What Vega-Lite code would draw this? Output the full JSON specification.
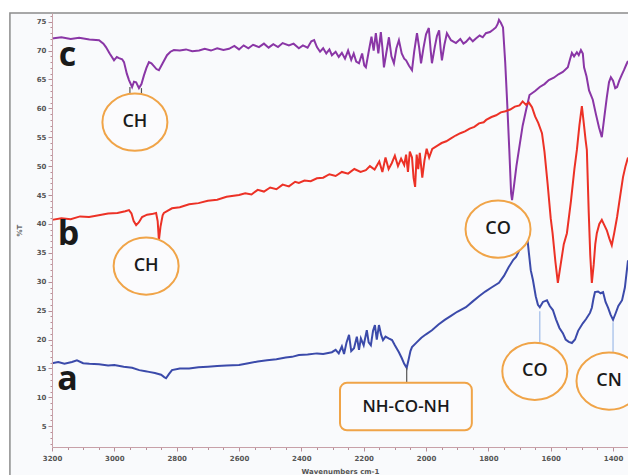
{
  "$schema": "https://vega.github.io/schema/vega-lite/v6.json",
  "width": 576,
  "height": 434,
  "autosize": {"type": "none"},
  "padding": {"left": 52, "top": 13, "right": 0, "bottom": 28},
  "background": "white",
  "config": {"view": {"stroke": null}, "axis": {"labelOverlap": false}},
  "datasets": {
    "frame": [{"x1": 3335, "x2": 1300, "y1": 76.5, "y2": -5}],
    "spectra": [
      {"s":"c","w":3200,"v":72.1},{"s":"c","w":3170,"v":72.3},{"s":"c","w":3140,"v":72.0},{"s":"c","w":3113,"v":72.2},{"s":"c","w":3080,"v":71.9},{"s":"c","w":3049,"v":71.8},{"s":"c","w":3035,"v":71.2},{"s":"c","w":3027,"v":70.6},{"s":"c","w":3015,"v":69.5},{"s":"c","w":3001,"v":68.3},{"s":"c","w":2992,"v":68.9},{"s":"c","w":2985,"v":68.7},{"s":"c","w":2975,"v":68.5},{"s":"c","w":2969,"v":68.0},{"s":"c","w":2960,"v":66.0},{"s":"c","w":2953,"v":64.9},{"s":"c","w":2943,"v":63.7},{"s":"c","w":2937,"v":64.6},{"s":"c","w":2930,"v":64.5},{"s":"c","w":2921,"v":63.5},{"s":"c","w":2913,"v":64.2},{"s":"c","w":2905,"v":65.7},{"s":"c","w":2897,"v":67.0},{"s":"c","w":2889,"v":68.0},{"s":"c","w":2881,"v":67.8},{"s":"c","w":2873,"v":67.3},{"s":"c","w":2865,"v":66.8},{"s":"c","w":2857,"v":66.6},{"s":"c","w":2845,"v":67.8},{"s":"c","w":2831,"v":69.2},{"s":"c","w":2820,"v":69.8},{"s":"c","w":2809,"v":70.1},{"s":"c","w":2790,"v":70.0},{"s":"c","w":2770,"v":70.2},{"s":"c","w":2750,"v":69.9},{"s":"c","w":2728,"v":70.0},{"s":"c","w":2710,"v":70.3},{"s":"c","w":2690,"v":70.0},{"s":"c","w":2670,"v":70.4},{"s":"c","w":2650,"v":70.1},{"s":"c","w":2632,"v":70.3},{"s":"c","w":2615,"v":70.8},{"s":"c","w":2600,"v":70.2},{"s":"c","w":2585,"v":70.9},{"s":"c","w":2570,"v":70.4},{"s":"c","w":2555,"v":71.0},{"s":"c","w":2536,"v":70.6},{"s":"c","w":2520,"v":71.2},{"s":"c","w":2505,"v":70.5},{"s":"c","w":2490,"v":71.1},{"s":"c","w":2475,"v":70.6},{"s":"c","w":2460,"v":71.3},{"s":"c","w":2440,"v":70.9},{"s":"c","w":2425,"v":71.2},{"s":"c","w":2408,"v":70.4},{"s":"c","w":2395,"v":70.9},{"s":"c","w":2380,"v":70.5},{"s":"c","w":2368,"v":71.6},{"s":"c","w":2359,"v":71.8},{"s":"c","w":2350,"v":70.6},{"s":"c","w":2340,"v":69.8},{"s":"c","w":2330,"v":70.4},{"s":"c","w":2320,"v":69.5},{"s":"c","w":2310,"v":70.2},{"s":"c","w":2302,"v":69.2},{"s":"c","w":2290,"v":69.8},{"s":"c","w":2280,"v":68.9},{"s":"c","w":2270,"v":69.6},{"s":"c","w":2260,"v":68.6},{"s":"c","w":2250,"v":70.0},{"s":"c","w":2240,"v":68.4},{"s":"c","w":2232,"v":69.5},{"s":"c","w":2224,"v":68.1},{"s":"c","w":2215,"v":67.8},{"s":"c","w":2205,"v":69.5},{"s":"c","w":2198,"v":67.4},{"s":"c","w":2193,"v":67.1},{"s":"c","w":2185,"v":69.5},{"s":"c","w":2175,"v":72.4},{"s":"c","w":2168,"v":70.0},{"s":"c","w":2161,"v":73.0},{"s":"c","w":2153,"v":69.5},{"s":"c","w":2145,"v":73.2},{"s":"c","w":2140,"v":70.5},{"s":"c","w":2135,"v":67.1},{"s":"c","w":2128,"v":69.4},{"s":"c","w":2119,"v":72.3},{"s":"c","w":2111,"v":69.0},{"s":"c","w":2103,"v":67.8},{"s":"c","w":2095,"v":70.4},{"s":"c","w":2087,"v":71.8},{"s":"c","w":2078,"v":69.5},{"s":"c","w":2070,"v":68.6},{"s":"c","w":2064,"v":68.3},{"s":"c","w":2055,"v":67.4},{"s":"c","w":2045,"v":66.6},{"s":"c","w":2038,"v":69.8},{"s":"c","w":2029,"v":73.0},{"s":"c","w":2022,"v":70.5},{"s":"c","w":2016,"v":67.8},{"s":"c","w":2008,"v":70.5},{"s":"c","w":2000,"v":72.8},{"s":"c","w":1991,"v":73.9},{"s":"c","w":1985,"v":70.0},{"s":"c","w":1981,"v":67.8},{"s":"c","w":1972,"v":70.6},{"s":"c","w":1965,"v":72.5},{"s":"c","w":1958,"v":73.5},{"s":"c","w":1953,"v":70.2},{"s":"c","w":1949,"v":68.3},{"s":"c","w":1941,"v":71.0},{"s":"c","w":1933,"v":73.0},{"s":"c","w":1920,"v":71.8},{"s":"c","w":1904,"v":71.3},{"s":"c","w":1890,"v":72.0},{"s":"c","w":1880,"v":71.2},{"s":"c","w":1872,"v":71.5},{"s":"c","w":1860,"v":72.2},{"s":"c","w":1850,"v":71.6},{"s":"c","w":1840,"v":72.1},{"s":"c","w":1828,"v":72.6},{"s":"c","w":1818,"v":72.3},{"s":"c","w":1808,"v":73.0},{"s":"c","w":1795,"v":73.2},{"s":"c","w":1785,"v":73.6},{"s":"c","w":1776,"v":74.0},{"s":"c","w":1770,"v":74.6},{"s":"c","w":1766,"v":75.3},{"s":"c","w":1760,"v":74.8},{"s":"c","w":1753,"v":74.0},{"s":"c","w":1746,"v":68.0},{"s":"c","w":1740,"v":61.4},{"s":"c","w":1733,"v":53.0},{"s":"c","w":1727,"v":45.3},{"s":"c","w":1724,"v":44.1},{"s":"c","w":1718,"v":46.5},{"s":"c","w":1710,"v":50.0},{"s":"c","w":1702,"v":52.8},{"s":"c","w":1690,"v":57.0},{"s":"c","w":1679,"v":59.7},{"s":"c","w":1668,"v":62.3},{"s":"c","w":1650,"v":63.0},{"s":"c","w":1635,"v":63.7},{"s":"c","w":1620,"v":64.2},{"s":"c","w":1606,"v":64.9},{"s":"c","w":1590,"v":65.3},{"s":"c","w":1575,"v":65.9},{"s":"c","w":1561,"v":66.3},{"s":"c","w":1545,"v":67.1},{"s":"c","w":1538,"v":68.5},{"s":"c","w":1532,"v":69.6},{"s":"c","w":1525,"v":69.0},{"s":"c","w":1516,"v":69.7},{"s":"c","w":1510,"v":69.2},{"s":"c","w":1503,"v":70.1},{"s":"c","w":1497,"v":69.5},{"s":"c","w":1493,"v":67.1},{"s":"c","w":1485,"v":65.5},{"s":"c","w":1477,"v":63.1},{"s":"c","w":1465,"v":61.5},{"s":"c","w":1455,"v":59.0},{"s":"c","w":1445,"v":56.7},{"s":"c","w":1436,"v":55.0},{"s":"c","w":1428,"v":58.5},{"s":"c","w":1420,"v":61.9},{"s":"c","w":1413,"v":64.5},{"s":"c","w":1407,"v":65.4},{"s":"c","w":1400,"v":64.8},{"s":"c","w":1393,"v":63.5},{"s":"c","w":1387,"v":63.7},{"s":"c","w":1380,"v":64.8},{"s":"c","w":1372,"v":65.8},{"s":"c","w":1365,"v":66.6},{"s":"c","w":1358,"v":67.5},{"s":"c","w":1352,"v":68.2},
      {"s":"b","w":3200,"v":40.7},{"s":"b","w":3170,"v":41.0},{"s":"b","w":3140,"v":40.8},{"s":"b","w":3110,"v":41.3},{"s":"b","w":3081,"v":41.2},{"s":"b","w":3050,"v":41.5},{"s":"b","w":3020,"v":41.8},{"s":"b","w":2990,"v":41.9},{"s":"b","w":2965,"v":42.2},{"s":"b","w":2953,"v":42.4},{"s":"b","w":2945,"v":41.8},{"s":"b","w":2938,"v":40.5},{"s":"b","w":2930,"v":39.8},{"s":"b","w":2921,"v":40.3},{"s":"b","w":2911,"v":41.2},{"s":"b","w":2895,"v":41.6},{"s":"b","w":2880,"v":41.7},{"s":"b","w":2866,"v":41.9},{"s":"b","w":2861,"v":40.5},{"s":"b","w":2857,"v":37.2},{"s":"b","w":2852,"v":39.5},{"s":"b","w":2845,"v":41.5},{"s":"b","w":2841,"v":41.9},{"s":"b","w":2815,"v":42.7},{"s":"b","w":2790,"v":42.9},{"s":"b","w":2760,"v":43.4},{"s":"b","w":2730,"v":43.6},{"s":"b","w":2700,"v":44.0},{"s":"b","w":2670,"v":44.2},{"s":"b","w":2640,"v":44.7},{"s":"b","w":2600,"v":45.0},{"s":"b","w":2580,"v":45.3},{"s":"b","w":2560,"v":45.1},{"s":"b","w":2540,"v":45.9},{"s":"b","w":2520,"v":45.6},{"s":"b","w":2500,"v":46.3},{"s":"b","w":2480,"v":46.0},{"s":"b","w":2460,"v":46.8},{"s":"b","w":2440,"v":46.5},{"s":"b","w":2420,"v":47.3},{"s":"b","w":2408,"v":47.1},{"s":"b","w":2390,"v":47.5},{"s":"b","w":2370,"v":47.4},{"s":"b","w":2350,"v":47.9},{"s":"b","w":2330,"v":48.0},{"s":"b","w":2310,"v":48.6},{"s":"b","w":2290,"v":48.3},{"s":"b","w":2270,"v":49.0},{"s":"b","w":2250,"v":48.7},{"s":"b","w":2230,"v":49.5},{"s":"b","w":2210,"v":49.0},{"s":"b","w":2193,"v":49.3},{"s":"b","w":2180,"v":50.0},{"s":"b","w":2165,"v":49.4},{"s":"b","w":2150,"v":50.8},{"s":"b","w":2140,"v":49.0},{"s":"b","w":2130,"v":51.5},{"s":"b","w":2120,"v":49.5},{"s":"b","w":2110,"v":50.5},{"s":"b","w":2100,"v":51.8},{"s":"b","w":2090,"v":50.0},{"s":"b","w":2080,"v":51.3},{"s":"b","w":2070,"v":50.2},{"s":"b","w":2064,"v":52.0},{"s":"b","w":2058,"v":49.0},{"s":"b","w":2052,"v":52.5},{"s":"b","w":2045,"v":51.5},{"s":"b","w":2040,"v":48.0},{"s":"b","w":2035,"v":46.4},{"s":"b","w":2030,"v":52.0},{"s":"b","w":2025,"v":49.5},{"s":"b","w":2020,"v":52.3},{"s":"b","w":2012,"v":48.0},{"s":"b","w":2005,"v":51.0},{"s":"b","w":1998,"v":53.0},{"s":"b","w":1990,"v":51.5},{"s":"b","w":1980,"v":53.0},{"s":"b","w":1962,"v":53.6},{"s":"b","w":1950,"v":54.0},{"s":"b","w":1935,"v":54.3},{"s":"b","w":1920,"v":54.8},{"s":"b","w":1905,"v":55.3},{"s":"b","w":1890,"v":55.7},{"s":"b","w":1875,"v":56.0},{"s":"b","w":1860,"v":56.5},{"s":"b","w":1845,"v":56.8},{"s":"b","w":1830,"v":57.4},{"s":"b","w":1815,"v":57.6},{"s":"b","w":1807,"v":58.0},{"s":"b","w":1790,"v":58.5},{"s":"b","w":1775,"v":58.8},{"s":"b","w":1760,"v":59.3},{"s":"b","w":1745,"v":59.5},{"s":"b","w":1730,"v":59.8},{"s":"b","w":1715,"v":60.3},{"s":"b","w":1700,"v":60.5},{"s":"b","w":1690,"v":61.2},{"s":"b","w":1679,"v":60.6},{"s":"b","w":1670,"v":61.0},{"s":"b","w":1660,"v":60.2},{"s":"b","w":1650,"v":58.6},{"s":"b","w":1640,"v":57.5},{"s":"b","w":1628,"v":55.7},{"s":"b","w":1620,"v":52.5},{"s":"b","w":1610,"v":47.0},{"s":"b","w":1600,"v":41.0},{"s":"b","w":1594,"v":38.4},{"s":"b","w":1585,"v":33.5},{"s":"b","w":1577,"v":29.8},{"s":"b","w":1568,"v":33.0},{"s":"b","w":1558,"v":36.5},{"s":"b","w":1548,"v":38.4},{"s":"b","w":1535,"v":44.0},{"s":"b","w":1524,"v":49.5},{"s":"b","w":1516,"v":52.8},{"s":"b","w":1508,"v":57.0},{"s":"b","w":1500,"v":60.4},{"s":"b","w":1494,"v":57.5},{"s":"b","w":1488,"v":54.5},{"s":"b","w":1484,"v":52.8},{"s":"b","w":1478,"v":42.0},{"s":"b","w":1473,"v":34.5},{"s":"b","w":1468,"v":29.8},{"s":"b","w":1462,"v":33.0},{"s":"b","w":1457,"v":36.5},{"s":"b","w":1452,"v":38.4},{"s":"b","w":1444,"v":40.0},{"s":"b","w":1436,"v":40.7},{"s":"b","w":1428,"v":39.8},{"s":"b","w":1420,"v":38.9},{"s":"b","w":1412,"v":37.5},{"s":"b","w":1404,"v":36.3},{"s":"b","w":1396,"v":38.5},{"s":"b","w":1387,"v":41.2},{"s":"b","w":1378,"v":44.5},{"s":"b","w":1368,"v":48.1},{"s":"b","w":1360,"v":50.0},{"s":"b","w":1352,"v":51.5},
      {"s":"a","w":3200,"v":15.9},{"s":"a","w":3180,"v":16.1},{"s":"a","w":3160,"v":15.8},{"s":"a","w":3136,"v":16.1},{"s":"a","w":3120,"v":16.4},{"s":"a","w":3100,"v":15.9},{"s":"a","w":3080,"v":15.8},{"s":"a","w":3049,"v":15.7},{"s":"a","w":3020,"v":15.5},{"s":"a","w":3000,"v":15.6},{"s":"a","w":2970,"v":15.3},{"s":"a","w":2943,"v":15.1},{"s":"a","w":2920,"v":14.7},{"s":"a","w":2900,"v":14.5},{"s":"a","w":2889,"v":14.4},{"s":"a","w":2870,"v":14.2},{"s":"a","w":2850,"v":13.9},{"s":"a","w":2840,"v":13.5},{"s":"a","w":2834,"v":13.3},{"s":"a","w":2825,"v":14.0},{"s":"a","w":2815,"v":14.7},{"s":"a","w":2790,"v":15.0},{"s":"a","w":2760,"v":15.0},{"s":"a","w":2730,"v":15.2},{"s":"a","w":2700,"v":15.3},{"s":"a","w":2670,"v":15.4},{"s":"a","w":2640,"v":15.5},{"s":"a","w":2600,"v":15.6},{"s":"a","w":2570,"v":15.9},{"s":"a","w":2540,"v":16.2},{"s":"a","w":2510,"v":16.4},{"s":"a","w":2480,"v":16.6},{"s":"a","w":2450,"v":16.9},{"s":"a","w":2430,"v":17.0},{"s":"a","w":2408,"v":17.3},{"s":"a","w":2380,"v":17.4},{"s":"a","w":2350,"v":17.6},{"s":"a","w":2330,"v":17.5},{"s":"a","w":2302,"v":17.8},{"s":"a","w":2290,"v":18.2},{"s":"a","w":2280,"v":17.6},{"s":"a","w":2270,"v":18.8},{"s":"a","w":2263,"v":17.5},{"s":"a","w":2255,"v":19.5},{"s":"a","w":2247,"v":20.8},{"s":"a","w":2240,"v":18.0},{"s":"a","w":2231,"v":18.5},{"s":"a","w":2222,"v":20.5},{"s":"a","w":2215,"v":18.2},{"s":"a","w":2209,"v":20.2},{"s":"a","w":2200,"v":19.0},{"s":"a","w":2190,"v":21.6},{"s":"a","w":2184,"v":19.5},{"s":"a","w":2177,"v":19.0},{"s":"a","w":2170,"v":21.5},{"s":"a","w":2164,"v":22.5},{"s":"a","w":2158,"v":20.0},{"s":"a","w":2151,"v":22.5},{"s":"a","w":2144,"v":20.8},{"s":"a","w":2138,"v":19.9},{"s":"a","w":2130,"v":20.5},{"s":"a","w":2120,"v":20.2},{"s":"a","w":2109,"v":19.9},{"s":"a","w":2100,"v":19.0},{"s":"a","w":2087,"v":17.8},{"s":"a","w":2078,"v":16.8},{"s":"a","w":2070,"v":15.8},{"s":"a","w":2062,"v":15.1},{"s":"a","w":2056,"v":16.5},{"s":"a","w":2050,"v":18.0},{"s":"a","w":2045,"v":18.7},{"s":"a","w":2030,"v":19.5},{"s":"a","w":2015,"v":20.3},{"s":"a","w":2000,"v":20.9},{"s":"a","w":1981,"v":21.6},{"s":"a","w":1960,"v":22.6},{"s":"a","w":1940,"v":23.4},{"s":"a","w":1920,"v":24.1},{"s":"a","w":1900,"v":24.8},{"s":"a","w":1872,"v":25.6},{"s":"a","w":1850,"v":26.6},{"s":"a","w":1830,"v":27.5},{"s":"a","w":1810,"v":28.3},{"s":"a","w":1790,"v":29.0},{"s":"a","w":1766,"v":29.8},{"s":"a","w":1750,"v":31.0},{"s":"a","w":1735,"v":32.5},{"s":"a","w":1720,"v":33.8},{"s":"a","w":1711,"v":34.3},{"s":"a","w":1700,"v":35.5},{"s":"a","w":1690,"v":36.8},{"s":"a","w":1682,"v":37.6},{"s":"a","w":1676,"v":38.1},{"s":"a","w":1670,"v":35.0},{"s":"a","w":1664,"v":32.0},{"s":"a","w":1657,"v":30.3},{"s":"a","w":1648,"v":27.5},{"s":"a","w":1641,"v":26.0},{"s":"a","w":1635,"v":25.6},{"s":"a","w":1625,"v":26.5},{"s":"a","w":1612,"v":26.8},{"s":"a","w":1603,"v":25.8},{"s":"a","w":1593,"v":25.1},{"s":"a","w":1583,"v":23.5},{"s":"a","w":1572,"v":22.0},{"s":"a","w":1561,"v":21.1},{"s":"a","w":1552,"v":20.0},{"s":"a","w":1542,"v":19.6},{"s":"a","w":1532,"v":19.4},{"s":"a","w":1522,"v":20.0},{"s":"a","w":1512,"v":21.5},{"s":"a","w":1497,"v":22.8},{"s":"a","w":1487,"v":23.5},{"s":"a","w":1474,"v":24.6},{"s":"a","w":1468,"v":25.5},{"s":"a","w":1463,"v":27.0},{"s":"a","w":1458,"v":28.2},{"s":"a","w":1448,"v":28.3},{"s":"a","w":1440,"v":28.0},{"s":"a","w":1432,"v":28.2},{"s":"a","w":1424,"v":26.5},{"s":"a","w":1416,"v":25.5},{"s":"a","w":1408,"v":24.3},{"s":"a","w":1400,"v":23.4},{"s":"a","w":1392,"v":24.5},{"s":"a","w":1383,"v":25.8},{"s":"a","w":1371,"v":26.8},{"s":"a","w":1362,"v":29.0},{"s":"a","w":1352,"v":33.7}
    ],
    "rules": [
      {"w": 2950, "v1": 63.7, "v2": 62.3, "c": "dark"},
      {"w": 2913, "v1": 63.5, "v2": 62.3, "c": "dark"},
      {"w": 2062, "v1": 15.1, "v2": 12.5, "c": "dark"},
      {"w": 1635, "v1": 24.9, "v2": 19.5, "c": "light"},
      {"w": 1400, "v1": 23.0, "v2": 17.8, "c": "light"}
    ],
    "ellipses": [
      {"w": 2934, "v": 57.6, "t": "CH"},
      {"w": 2898, "v": 32.7, "t": "CH"},
      {"w": 1769, "v": 39.1, "t": "CO"},
      {"w": 1651, "v": 14.5, "t": "CO"},
      {"w": 1413, "v": 12.8, "t": "CN"}
    ],
    "boxes": [
      {"w1": 2276, "w2": 1853, "v1": 12.5, "v2": 4.3, "wm": 2064, "vm": 8.4, "t": "NH-CO-NH"}
    ],
    "letters": [
      {"w": 3150, "v": 69.0, "t": "c"},
      {"w": 3147, "v": 38.0, "t": "b"},
      {"w": 3150, "v": 13.0, "t": "a"}
    ]
  },
  "layer": [
    {
      "data": {"name": "frame"},
      "mark": {"type": "rect", "fill": "#f9fafc", "stroke": "#8c8c8c", "strokeWidth": 1.5},
      "encoding": {
        "x": {"field": "x1", "type": "quantitative",
          "scale": {"domain": [1352, 3200], "reverse": true, "nice": false, "zero": false},
          "axis": {
            "zindex": 1,
            "title": "Wavenumbers cm-1",
            "tickCount": 500,
            "values": [3200,3150,3100,3050,3000,2950,2900,2850,2800,2750,2700,2650,2600,2550,2500,2450,2400,2350,2300,2250,2200,2150,2100,2050,2000,1950,1900,1850,1800,1750,1700,1650,1600,1550,1500,1450,1400],
            "labelExpr": "datum.value % 200 === 0 ? format(datum.value, 'd') : ''",
            "labelFontSize": {"condition": {"test": "datum.value % 200 === 0", "value": 7}, "value": 0.1},
            "tickSize": {"condition": {"test": "datum.value % 200 === 0", "value": 4}, "value": 2.5},
            "domainColor": "#c8a0a8", "tickColor": "#b88e98", "tickWidth": 1,
            "labelFont": "DejaVu Sans", "labelFontWeight": "bold", "labelColor": "#555",
            "labelPadding": 3, "labelOverlap": false, "labelFlush": false,
            "titleFont": "DejaVu Sans", "titleFontSize": 7, "titleFontWeight": "bold", "titleColor": "#555", "titlePadding": 6,
            "grid": false
          }
        },
        "x2": {"field": "x2"},
        "y": {"field": "y1", "type": "quantitative",
          "scale": {"domain": [1.4, 76.5], "nice": false, "zero": false},
          "axis": {
            "zindex": 1,
            "title": "%T",
            "tickCount": 500,
            "values": [2,3,4,5,6,7,8,9,10,11,12,13,14,15,16,17,18,19,20,21,22,23,24,25,26,27,28,29,30,31,32,33,34,35,36,37,38,39,40,41,42,43,44,45,46,47,48,49,50,51,52,53,54,55,56,57,58,59,60,61,62,63,64,65,66,67,68,69,70,71,72,73,74,75,76],
            "labelExpr": "datum.value % 5 === 0 ? format(datum.value, 'd') : ''",
            "labelFontSize": {"condition": {"test": "datum.value % 5 === 0", "value": 7}, "value": 0.1},
            "tickSize": {"condition": {"test": "datum.value % 5 === 0", "value": 4}, "value": 2},
            "domainColor": "#c8a0a8", "tickColor": "#b88e98", "tickWidth": 1,
            "labelFont": "DejaVu Sans", "labelFontWeight": "bold", "labelColor": "#555",
            "labelPadding": 2, "labelOverlap": false,
            "titleFont": "DejaVu Sans", "titleFontSize": 7, "titleFontWeight": "bold", "titleColor": "#666", "titlePadding": 14,
            "grid": false
          }
        },
        "y2": {"field": "y2"}
      }
    },
    {
      "data": {"name": "spectra"},
      "mark": {"type": "line", "strokeWidth": 2, "interpolate": "linear"},
      "encoding": {
        "x": {"field": "w", "type": "quantitative"},
        "y": {"field": "v", "type": "quantitative"},
        "color": {"field": "s", "type": "nominal", "scale": {"domain": ["a", "b", "c"], "range": ["#3b4aaa", "#ec3126", "#8a36a6"]}, "legend": null}
      }
    },
    {
      "data": {"name": "rules"},
      "mark": {"type": "rule", "strokeWidth": 1.2},
      "encoding": {
        "x": {"field": "w", "type": "quantitative"},
        "y": {"field": "v1", "type": "quantitative"},
        "y2": {"field": "v2"},
        "stroke": {"field": "c", "type": "nominal", "scale": {"domain": ["dark", "light"], "range": ["#555555", "#9fbbe8"]}, "legend": null}
      }
    },
    {
      "data": {"name": "ellipses"},
      "mark": {"type": "point", "filled": false, "fill": "#fbfbfd", "fillOpacity": 1, "stroke": "#f0a448", "strokeWidth": 2, "opacity": 1,
        "shape": "M 1 0 C 1 0.486 0.552 0.88 0 0.88 C -0.552 0.88 -1 0.486 -1 0 C -1 -0.486 -0.552 -0.88 0 -0.88 C 0.552 -0.88 1 -0.486 1 0 Z",
        "size": 4225},
      "encoding": {
        "x": {"field": "w", "type": "quantitative"},
        "y": {"field": "v", "type": "quantitative"}
      }
    },
    {
      "data": {"name": "ellipses"},
      "mark": {"type": "text", "font": "Open Sans", "fontSize": 18, "fontWeight": 600, "fill": "#1a1a1a", "baseline": "middle", "align": "center"},
      "encoding": {
        "x": {"field": "w", "type": "quantitative"},
        "y": {"field": "v", "type": "quantitative"},
        "text": {"field": "t"}
      }
    },
    {
      "data": {"name": "boxes"},
      "mark": {"type": "rect", "fill": "#fbfbfd", "stroke": "#f0a448", "strokeWidth": 2, "cornerRadius": 7},
      "encoding": {
        "x": {"field": "w1", "type": "quantitative"},
        "x2": {"field": "w2"},
        "y": {"field": "v1", "type": "quantitative"},
        "y2": {"field": "v2"}
      }
    },
    {
      "data": {"name": "boxes"},
      "mark": {"type": "text", "font": "Open Sans", "fontSize": 17, "fontWeight": 600, "fill": "#1a1a1a", "baseline": "middle", "align": "center"},
      "encoding": {
        "x": {"field": "wm", "type": "quantitative"},
        "y": {"field": "vm", "type": "quantitative"},
        "text": {"field": "t"}
      }
    },
    {
      "data": {"name": "letters"},
      "mark": {"type": "text", "font": "Open Sans", "fontSize": 34, "fontWeight": "bold", "fill": "#1a1a1a", "baseline": "middle", "align": "center"},
      "encoding": {
        "x": {"field": "w", "type": "quantitative"},
        "y": {"field": "v", "type": "quantitative"},
        "text": {"field": "t"}
      }
    }
  ]
}
